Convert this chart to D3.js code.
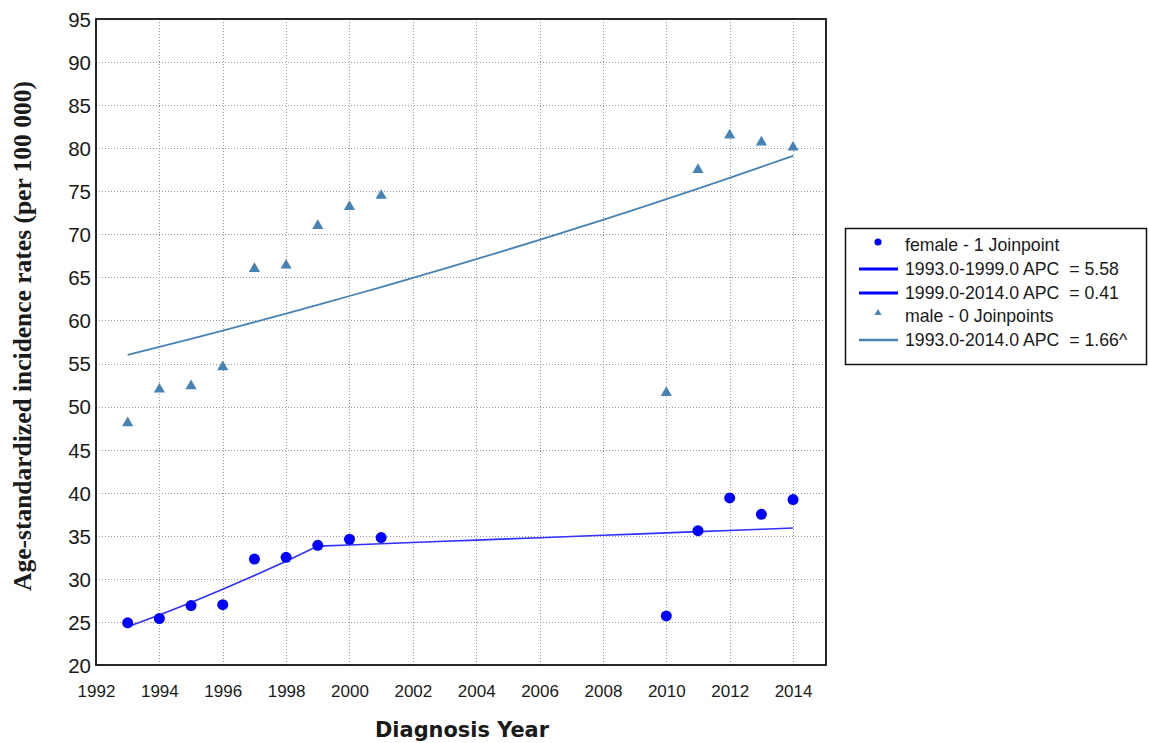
<!DOCTYPE html>
<html>
<head>
<meta charset="utf-8">
<script src="https://cdn.jsdelivr.net/npm/d3@7"></script>
<style>
  html, body { margin: 0; padding: 0; background: #fff; }
  svg { display: block; }
</style>
</head>
<body>
<svg id="chart" width="1149" height="743"></svg>
<script>
// Observed rates by diagnosis year
const years = [1993, 1994, 1995, 1996, 1997, 1998, 1999, 2000, 2001, 2010, 2011, 2012, 2013, 2014];
const femaleRates = [24.9, 25.4, 26.9, 27.0, 32.3, 32.5, 33.9, 34.6, 34.8, 25.7, 35.6, 39.4, 37.5, 39.2];
const maleRates = [48.1, 52.0, 52.4, 54.6, 66.0, 66.4, 71.0, 73.2, 74.5, 51.6, 77.5, 81.5, 80.7, 80.1];

// Joinpoint model fits, one value per year 1993-2014
const fitYears = [1993, 1994, 1995, 1996, 1997, 1998, 1999, 2000, 2001, 2002, 2003,
                  2004, 2005, 2006, 2007, 2008, 2009, 2010, 2011, 2012, 2013, 2014];
const femaleFit = [24.45, 25.8, 27.25, 28.8, 30.4, 32.05, 33.8, 33.94, 34.08, 34.22, 34.36,
                   34.5, 34.64, 34.78, 34.92, 35.06, 35.2, 35.34, 35.48, 35.62, 35.76, 35.9];
const maleFit = [56.0, 56.93, 57.87, 58.83, 59.81, 60.8, 61.81, 62.84, 63.88, 64.94, 66.02,
                 67.11, 68.23, 69.36, 70.51, 71.68, 72.87, 74.08, 75.31, 76.56, 77.83, 79.12];

// Axis ticks and legend text
const xTicks = [1992, 1994, 1996, 1998, 2000, 2002, 2004, 2006, 2008, 2010, 2012, 2014];
const yTicks = [20, 25, 30, 35, 40, 45, 50, 55, 60, 65, 70, 75, 80, 85, 90, 95];
const legendLabels = [
  "female - 1 Joinpoint",
  "1993.0-1999.0 APC  = 5.58",
  "1999.0-2014.0 APC  = 0.41",
  "male - 0 Joinpoints",
  "1993.0-2014.0 APC  = 1.66^"
];

const FEMALE = "#0000ff";
const FEMALE_LINE = "#3030ff";
const MALE = "#4682b4";
const TEXT = "#1a1a1a";

const svg = d3.select("#chart");
const plot = { left: 96, right: 826, top: 19, bottom: 665 };

const x = d3.scaleLinear().domain([1992, 2015.04]).range([plot.left, plot.right]);
const y = d3.scaleLinear().domain([20, 95]).range([plot.bottom, plot.top]);

// Dotted grid
const grid = svg.append("g").attr("stroke", "#9a9a9a").attr("stroke-width", 1)
  .attr("stroke-dasharray", "1,2").attr("shape-rendering", "crispEdges");
grid.selectAll("line.v").data(xTicks.filter(d => d > 1992)).join("line")
  .attr("class", "v")
  .attr("x1", d => Math.round(x(d)) + 0.5).attr("x2", d => Math.round(x(d)) + 0.5)
  .attr("y1", plot.top).attr("y2", plot.bottom);
grid.selectAll("line.h").data(yTicks.filter(d => d > 20 && d < 95)).join("line")
  .attr("class", "h")
  .attr("y1", d => Math.round(y(d)) + 0.5).attr("y2", d => Math.round(y(d)) + 0.5)
  .attr("x1", plot.left).attr("x2", plot.right);

// Axes (labels only, no tick marks)
const xAxis = d3.axisBottom(x).tickValues(xTicks).tickFormat(d3.format("d")).tickSize(0).tickPadding(20);
const yAxis = d3.axisLeft(y).tickValues(yTicks).tickSize(0).tickPadding(5);

const gx = svg.append("g").attr("transform", `translate(0,${plot.bottom})`).call(xAxis);
gx.select(".domain").remove();
gx.selectAll("text").attr("font-family", "Liberation Sans, Arial, sans-serif")
  .attr("font-size", 17).attr("fill", TEXT);

const gy = svg.append("g").attr("transform", `translate(${plot.left},0)`).call(yAxis);
gy.select(".domain").remove();
gy.selectAll("text").attr("font-family", "Liberation Sans, Arial, sans-serif")
  .attr("font-size", 20.5).attr("fill", TEXT).attr("dy", "0.36em");

// Plot frame
svg.append("rect")
  .attr("x", plot.left).attr("y", plot.top)
  .attr("width", plot.right - plot.left).attr("height", plot.bottom - plot.top)
  .attr("fill", "none").attr("stroke", "#111").attr("stroke-width", 1.8);

// Fitted lines
const line = d3.line().x(d => x(d[0])).y(d => y(d[1]));
svg.append("path")
  .attr("d", line(fitYears.map((yr, i) => [yr, maleFit[i]])))
  .attr("fill", "none").attr("stroke", MALE).attr("stroke-width", 1.8);
svg.append("path")
  .attr("d", line(fitYears.map((yr, i) => [yr, femaleFit[i]])))
  .attr("fill", "none").attr("stroke", FEMALE_LINE).attr("stroke-width", 1.6);

// Observed points
const tri = d3.symbol().type(d3.symbolTriangle).size(54);
svg.append("g").selectAll("path").data(years.map((yr, i) => [yr, maleRates[i]])).join("path")
  .attr("d", tri)
  .attr("transform", d => `translate(${x(d[0])},${y(d[1])})`)
  .attr("fill", MALE);
svg.append("g").selectAll("circle").data(years.map((yr, i) => [yr, femaleRates[i]])).join("circle")
  .attr("cx", d => x(d[0])).attr("cy", d => y(d[1])).attr("r", 5.5)
  .attr("fill", FEMALE);

// Fit a text element to a target length by adjusting its font size
function fitText(sel, targetLen) {
  const fs = parseFloat(sel.attr("font-size"));
  const len = sel.node().getComputedTextLength();
  if (len > 0) sel.attr("font-size", (fs * targetLen / len).toFixed(2));
}

// Axis titles
const xTitle = svg.append("text")
  .attr("x", 462).attr("y", 737)
  .attr("text-anchor", "middle")
  .attr("font-family", "DejaVu Sans, Verdana, sans-serif").attr("font-weight", "bold")
  .attr("font-size", 20).attr("fill", TEXT)
  .text("Diagnosis Year");
fitText(xTitle, 174);

const yTitle = svg.append("text")
  .attr("transform", "translate(31,336) rotate(-90)")
  .attr("text-anchor", "middle")
  .attr("font-family", "Liberation Serif, Times New Roman, serif").attr("font-weight", "bold")
  .attr("font-size", 24).attr("fill", TEXT)
  .text("Age-standardized incidence rates (per 100 000)");
fitText(yTitle, 510);

// Legend
const legend = svg.append("g");
legend.append("rect")
  .attr("x", 845.5).attr("y", 228.5).attr("width", 301).attr("height", 136)
  .attr("fill", "#fff").attr("stroke", "#111").attr("stroke-width", 1.5);

const rowY = [245, 269, 293, 316, 340];
const legendKinds = ["circle", FEMALE, FEMALE, "triangle", MALE];
legendLabels.forEach((label, i) => {
  const yy = rowY[i];
  const kind = legendKinds[i];
  if (kind === "circle") {
    legend.append("circle").attr("cx", 878).attr("cy", yy - 3).attr("r", 3.5).attr("fill", FEMALE);
  } else if (kind === "triangle") {
    legend.append("path").attr("d", d3.symbol().type(d3.symbolTriangle).size(22))
      .attr("transform", `translate(878,${yy - 3})`).attr("fill", MALE);
  } else {
    legend.append("line").attr("x1", 859).attr("x2", 898).attr("y1", yy).attr("y2", yy)
      .attr("stroke", kind).attr("stroke-width", kind === MALE ? 2.5 : 2.8);
  }
  legend.append("text")
    .attr("x", 905).attr("y", yy).attr("dy", "0.36em")
    .attr("font-family", "Liberation Sans, Arial, sans-serif").attr("font-size", 17.7)
    .style("white-space", "pre")
    .attr("fill", TEXT)
    .text(label);
});
</script>
</body>
</html>
